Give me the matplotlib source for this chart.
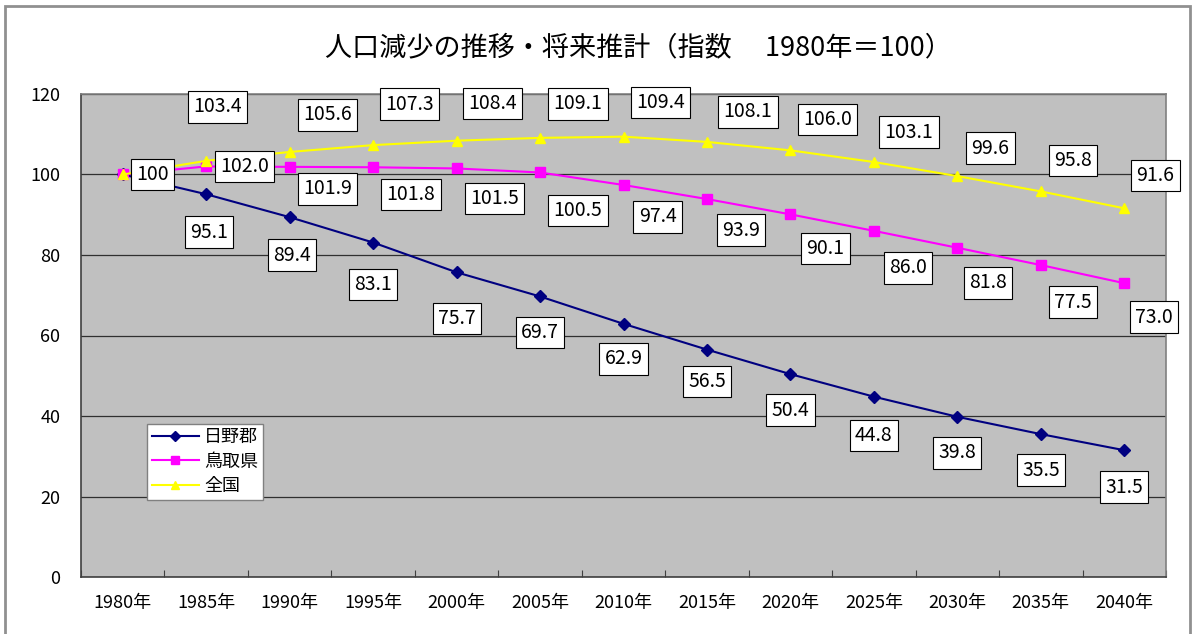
import matplotlib
matplotlib.use("Agg")
import matplotlib.pyplot as plt
from matplotlib.patches import Rectangle

plt.rcParams['font.family'] = ['Noto Sans CJK JP', 'DejaVu Sans']

# ---- data ----
years = ["1980年", "1985年", "1990年", "1995年", "2000年", "2005年", "2010年",
         "2015年", "2020年", "2025年", "2030年", "2035年", "2040年"]
series_names = ["日野郡", "鳥取県", "全国"]
hino = [100, 95.1, 89.4, 83.1, 75.7, 69.7, 62.9, 56.5, 50.4, 44.8, 39.8, 35.5, 31.5]
tottori = [100, 102.0, 101.9, 101.8, 101.5, 100.5, 97.4, 93.9, 90.1, 86.0, 81.8, 77.5, 73.0]
zenkoku = [100, 103.4, 105.6, 107.3, 108.4, 109.1, 109.4, 108.1, 106.0, 103.1, 99.6, 95.8, 91.6]
hino_labels = ["100", "95.1", "89.4", "83.1", "75.7", "69.7", "62.9", "56.5", "50.4",
               "44.8", "39.8", "35.5", "31.5"]
tottori_labels = [None, "102.0", "101.9", "101.8", "101.5", "100.5", "97.4", "93.9",
                  "90.1", "86.0", "81.8", "77.5", "73.0"]
zenkoku_labels = [None, "103.4", "105.6", "107.3", "108.4", "109.1", "109.4", "108.1",
                  "106.0", "103.1", "99.6", "95.8", "91.6"]
title = "人口減少の推移・将来推計（指数\u3000 1980年＝100）"

# ---- layout (label offsets in pixels) ----
hino_off = [(30, 0), (3, -38), (2, -38), (0, -42), (0, -46), (0, -36), (0, -35),
            (0, -32), (0, -36), (0, -39), (0, -36), (0, -36), (0, -37)]
tottori_off = [(0, 0), (38, 0), (38, -22), (38, -27), (38, -30), (38, -38), (34, -32),
               (34, -31), (35, -34), (34, -37), (31, -35), (32, -37), (30, -34)]
zenkoku_off = [(0, 0), (11, 54), (38, 37), (36, 41), (36, 37), (38, 34), (37, 34),
               (41, 30), (37, 31), (35, 30), (33, 28), (32, 31), (31, 33)]

fig = plt.figure(figsize=(11.92, 6.34), dpi=100)
fig.patch.set_facecolor('white')
ax = fig.add_axes([81/1192, 57/634, 1085/1192, 483/634])
ax.set_facecolor('#C0C0C0')

x = list(range(len(years)))
styles = [
    (hino, '#000080', 'D', 6, hino_labels, hino_off),
    (tottori, '#FF00FF', 's', 7, tottori_labels, tottori_off),
    (zenkoku, '#FFFF00', '^', 7.5, zenkoku_labels, zenkoku_off),
]
for (vals, col, mk, ms, labs, offs), name in zip(styles, series_names):
    ax.plot(x, vals, color=col, marker=mk, markersize=ms, lw=1.5, label=name,
            zorder=3, clip_on=False)
for (vals, col, mk, ms, labs, offs) in styles:
    for xi, v, lab, off in zip(x, vals, labs, offs):
        if lab is None:
            continue
        ax.annotate(lab, (xi, v), xytext=off, textcoords='offset pixels',
                    ha='center', va='center', fontsize=14, color='black',
                    bbox=dict(boxstyle='square,pad=0.27', fc='white', ec='black', lw=0.8),
                    zorder=5, annotation_clip=False)

ax.set_xlim(-0.5, len(years) - 0.5)
ax.set_ylim(0, 120)
ax.set_yticks(range(0, 121, 20))
ax.yaxis.grid(True, color='#303030', lw=0.9)
ax.set_axisbelow(True)
ax.tick_params(axis='y', length=0, labelsize=13, pad=15)

ax.set_xticks([i + 0.5 for i in range(-1, len(years))])
ax.set_xticklabels([])
ax.set_xticks(x, minor=True)
ax.set_xticklabels(years, minor=True, fontsize=13)
ax.tick_params(axis='x', which='major', length=5, direction='in', color='#404040')
ax.tick_params(axis='x', which='minor', length=0, pad=12)

for s in ['left', 'bottom']:
    ax.spines[s].set_color('#404040')
    ax.spines[s].set_linewidth(1.2)
for s in ['top', 'right']:
    ax.spines[s].set_color('#808080')
    ax.spines[s].set_linewidth(1.2)

leg = ax.legend(loc='upper left', bbox_to_anchor=(0.061, 0.317), fontsize=13,
                frameon=True, fancybox=False, framealpha=1, edgecolor='#808080',
                borderpad=0.25, labelspacing=0.35, handlelength=2.6, handletextpad=0.3,
                borderaxespad=0, markerscale=0.85)
leg.get_frame().set_linewidth(1.0)
leg.set_zorder(6)

fig.text(638/1192, 1 - 48/634, title, ha='center', va='center', fontsize=19.5)

fig.patches.append(Rectangle((5/1192, -0.02), 1185/1192, 1 - 6/634 + 0.02,
                             transform=fig.transFigure, fill=False,
                             edgecolor='#909090', lw=2))

fig.savefig('out.png', dpi=100)
